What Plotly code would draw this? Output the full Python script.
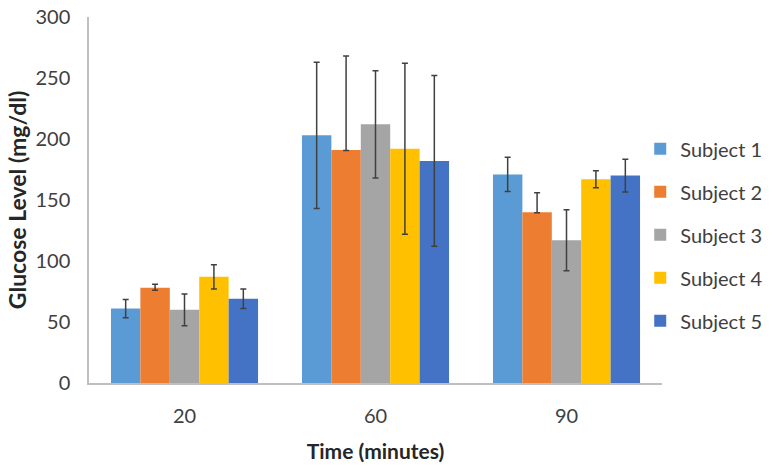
import plotly.graph_objects as go

categories = ["20", "60", "90"]
subjects = ["Subject 1", "Subject 2", "Subject 3", "Subject 4", "Subject 5"]
s1 = [61, 203, 171]
s2 = [78, 191, 140]
s3 = [60, 212, 117]
s4 = [87, 192, 167]
s5 = [69, 182, 170]
s1_err_plus = [7.5, 60, 14]
s1_err_minus = [7.5, 60, 14]
s2_err_plus = [3, 77, 16]
s2_err_minus = [2, 0.5, 0.5]
s3_err_plus = [13, 44, 25]
s3_err_minus = [13, 44, 25]
s4_err_plus = [10, 70, 7]
s4_err_minus = [10, 70, 7]
s5_err_plus = [8, 70, 13.5]
s5_err_minus = [8, 70, 13.5]

values = [s1, s2, s3, s4, s5]
plus = [s1_err_plus, s2_err_plus, s3_err_plus, s4_err_plus, s5_err_plus]
minus = [s1_err_minus, s2_err_minus, s3_err_minus, s4_err_minus, s5_err_minus]
colors = ["#5B9BD5", "#ED7D31", "#A5A5A5", "#FFC000", "#4472C4"]

fig = go.Figure()
for name, v, p, m, c in zip(subjects, values, plus, minus, colors):
    fig.add_trace(go.Bar(
        x=categories, y=v, name=name, legendgroup=name,
        marker=dict(color=c, line=dict(width=0)),
        error_y=dict(type="data", symmetric=False, array=p, arrayminus=m,
                     color="#404040", thickness=1.5, width=3),
    ))

font_family = "Lato, 'Open Sans', sans-serif"
fig.update_layout(
    width=782, height=473,
    margin=dict(l=89, r=120, t=17, b=90),
    paper_bgcolor="white", plot_bgcolor="white",
    barmode="group", bargap=0.23, bargroupgap=0,
    font=dict(family=font_family, size=20, color="#404040"),
    legend=dict(x=0.962, xanchor="left", y=0.693, yanchor="top",
                font=dict(size=20, color="#404040"),
                tracegroupgap=14, traceorder="grouped",
                itemwidth=30, bgcolor="rgba(0,0,0,0)"),
    showlegend=True,
    xaxis=dict(
        automargin=False,
        showline=True, linecolor="#BFBFBF", linewidth=1.5,
        ticks="", showgrid=False, ticklabelstandoff=14,
        tickfont=dict(size=20, color="#404040"),
        title=dict(text="<b>Time (minutes)</b>", font=dict(size=21, color="#262626"), standoff=19),
    ),
    yaxis=dict(
        automargin=False,
        range=[0, 300], dtick=50,
        showline=True, linecolor="#BFBFBF", linewidth=1.5,
        ticks="", showgrid=False, zeroline=False, ticklabelstandoff=13,
        tickfont=dict(size=20, color="#404040"),
        title=dict(text="<b>Glucose Level (mg/dl)</b>", font=dict(size=23, color="#262626"), standoff=2),
    ),
)

fig.write_html("out.html", config={"displayModeBar": False},
               post_script="document.body.style.margin='0';")
